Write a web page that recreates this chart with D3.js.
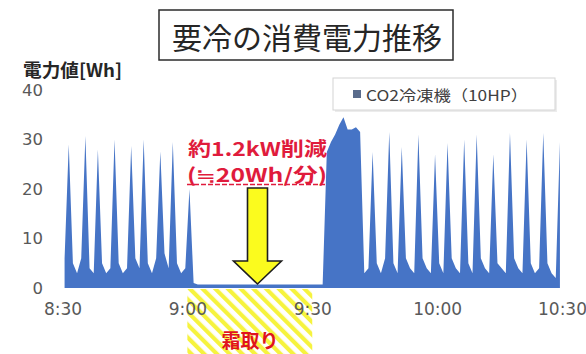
<!DOCTYPE html>
<html lang="ja">
<head>
<meta charset="utf-8">
<script src="https://cdn.jsdelivr.net/npm/d3@7"></script>
<style>
  html, body { margin: 0; padding: 0; background: #ffffff; }
  svg { display: block; }
</style>
</head>
<body>
<svg id="chart" width="586" height="354"></svg>
<script>
// Power per minute of the CO2 refrigeration unit, 8:30 - 10:30 (Wh/min)
const titleText = "要冷の消費電力推移";
const yAxisTitle = "電力値[Wh]";
const seriesName = "CO2冷凍機（10HP）";
const powerWh = [
  6, 29, 5, 3, 6, 30.7, 4, 3, 28, 5,
  3, 4, 30, 5, 3, 4, 28.7, 6, 4, 30,
  5, 3, 6, 27.6, 7, 4, 29.5, 5, 3, 4,
  20, 1, 0.7, 0.7, 0.7, 0.7, 0.7, 0.7, 0.7, 0.7,
  0.7, 0.7, 0.7, 0.7, 0.7, 0.7, 0.7, 0.7, 0.7, 0.7,
  0.7, 0.7, 0.7, 0.7, 0.7, 0.7, 0.7, 0.7, 0.7, 0.7,
  0.7, 0.7, 0.7, 27.5, 29.5, 31, 33, 34.5, 32, 32,
  32.5, 31.5, 3, 4, 27.5, 5, 3, 6, 31.5, 5,
  3, 28.5, 6, 4, 3, 31, 6, 4, 3, 27,
  5, 3, 29.3, 6, 4, 3, 30, 5, 3, 31,
  6, 4, 3, 27, 5, 4, 3, 31.3, 6, 4,
  3, 30, 5, 3, 4, 31.3, 5, 3, 2, 29.5
];
const tickMinutes = [0, 30, 60, 90, 120];
const tickLabels = ["8:30", "9:00", "9:30", "10:00", "10:30"];
const yTicks = [0, 10, 20, 30, 40];
const defrostRange = [30, 60];           // minutes after 8:30
const defrostLabel = "霜取り";
const savingLines = ["約1.2kW削減", "(≒20Wh/分)"];

const svg = d3.select("#chart");
const jp = "'Noto Sans CJK JP', 'Noto Sans', sans-serif";
const num = "'DejaVu Sans', sans-serif";

const x = d3.scaleLinear().domain([0, 120]).range([62.5, 562]);
const y = d3.scaleLinear().domain([0, 40]).range([288, 90]);

// hatched band marking the defrost period
const defs = svg.append("defs");
const pat = defs.append("pattern")
  .attr("id", "hatch").attr("patternUnits", "userSpaceOnUse")
  .attr("width", 9).attr("height", 9)
  .attr("patternTransform", "rotate(-45)");
pat.append("rect").attr("width", 9).attr("height", 9).attr("fill", "#ffffff");
pat.append("rect").attr("width", 4.2).attr("height", 9).attr("fill", "#f6f33e");

svg.append("rect")
  .attr("x", x(defrostRange[0])).attr("y", 289)
  .attr("width", x(defrostRange[1]) - x(defrostRange[0]))
  .attr("height", 354 - 289)
  .attr("fill", "url(#hatch)");

// area series
const area = d3.area()
  .x((d, i) => x(i + 0.5))
  .y0(y(0))
  .y1(d => y(d))
  .curve(d3.curveLinear);

svg.append("path")
  .datum(powerWh)
  .attr("d", area)
  .attr("fill", "#4674c6");

// y axis (labels only)
const yAxis = d3.axisLeft(y).tickValues(yTicks).tickSize(0).tickPadding(0);
const gy = svg.append("g").attr("transform", "translate(43,0)").call(yAxis);
gy.select(".domain").remove();
gy.selectAll("text")
  .attr("font-family", num).attr("font-size", 16.5)
  .attr("fill", "#595959");

// x axis (labels only)
const xAxis = d3.axisBottom(x).tickValues(tickMinutes)
  .tickFormat((d, i) => tickLabels[i]).tickSize(0).tickPadding(0);
const gx = svg.append("g").attr("transform", "translate(0,303)").call(xAxis);
gx.select(".domain").remove();
gx.selectAll("text")
  .attr("font-family", num).attr("font-size", 17)
  .attr("fill", "#595959");

// y axis title
svg.append("text")
  .attr("x", 23).attr("y", 69)
  .attr("dominant-baseline", "central")
  .attr("font-family", jp).attr("font-size", 18).attr("font-weight", 700)
  .attr("fill", "#262626")
  .attr("textLength", 99).attr("lengthAdjust", "spacingAndGlyphs")
  .text(yAxisTitle);

// title box
svg.append("rect")
  .attr("x", 159).attr("y", 10).attr("width", 294).attr("height", 50)
  .attr("fill", "#ffffff").attr("stroke", "#2b2b2b").attr("stroke-width", 1.5);
svg.append("text")
  .attr("x", 307).attr("y", 36)
  .attr("text-anchor", "middle").attr("dominant-baseline", "central")
  .attr("font-family", jp).attr("font-size", 30)
  .attr("fill", "#262626")
  .text(titleText);

// legend
svg.append("rect")
  .attr("x", 335).attr("y", 80).attr("width", 222).attr("height", 32)
  .attr("fill", "#ececec");
svg.append("rect")
  .attr("x", 333).attr("y", 78).attr("width", 222).attr("height", 32)
  .attr("fill", "#ffffff").attr("stroke", "#d4d4d4").attr("stroke-width", 1);
svg.append("rect")
  .attr("x", 353).attr("y", 90).attr("width", 8).attr("height", 8)
  .attr("fill", "#5a6c8c");
svg.append("text")
  .attr("x", 366).attr("y", 94.5)
  .attr("dominant-baseline", "central")
  .attr("font-family", jp).attr("font-size", 15)
  .attr("fill", "#404040")
  .attr("textLength", 162).attr("lengthAdjust", "spacingAndGlyphs")
  .text(seriesName);

// saving annotation
const red = "#e01b3c";
svg.append("text")
  .attr("x", 188).attr("y", 147)
  .attr("dominant-baseline", "central")
  .attr("font-family", jp).attr("font-size", 19).attr("font-weight", 700)
  .attr("fill", red)
  .attr("textLength", 139).attr("lengthAdjust", "spacingAndGlyphs")
  .text(savingLines[0]);
svg.append("text")
  .attr("x", 187).attr("y", 173)
  .attr("dominant-baseline", "central")
  .attr("font-family", jp).attr("font-size", 19).attr("font-weight", 700)
  .attr("fill", red)
  .attr("textLength", 140).attr("lengthAdjust", "spacingAndGlyphs")
  .text(savingLines[1]);
svg.append("line")
  .attr("x1", 187).attr("x2", 327).attr("y1", 184.5).attr("y2", 184.5)
  .attr("stroke", red).attr("stroke-width", 1.6)
  .attr("stroke-dasharray", "5,2");

// down arrow
const ax = 257.5;
const arrowPts = [
  [ax - 10, 188], [ax + 10, 188], [ax + 10, 261], [ax + 24, 261],
  [ax, 284], [ax - 24, 261], [ax - 10, 261]
];
svg.append("path")
  .attr("d", d3.line()(arrowPts) + "Z")
  .attr("fill", "#fbfb1e").attr("stroke", "#1e1e1e").attr("stroke-width", 1.6)
  .attr("stroke-linejoin", "miter");

// defrost label
svg.append("text")
  .attr("x", 250).attr("y", 339)
  .attr("text-anchor", "middle").attr("dominant-baseline", "central")
  .attr("font-family", jp).attr("font-size", 19).attr("font-weight", 700)
  .attr("fill", "#e0141e")
  .text(defrostLabel);
</script>
</body>
</html>
